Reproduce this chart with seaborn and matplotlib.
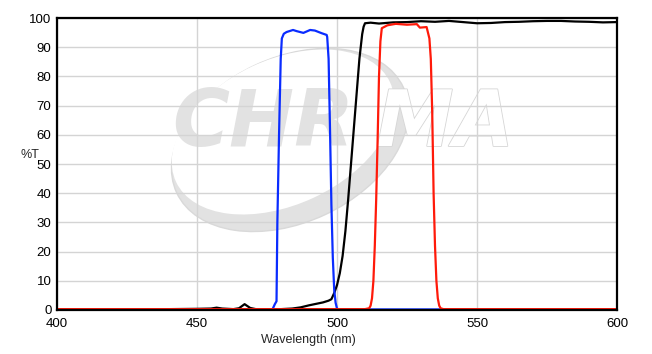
import numpy as np
import pandas as pd
import matplotlib
matplotlib.use("Agg")
import matplotlib.pyplot as plt
import seaborn as sns
from matplotlib.patches import Ellipse
from matplotlib.transforms import IdentityTransform
import matplotlib.patheffects as pe

# ---- data ----
black_wl = [400, 420, 440, 450, 455, 457, 459, 463, 465, 467, 469, 471, 475, 480, 484,
            487, 490, 493, 495, 497, 498, 499, 500, 501, 502, 503, 504, 505, 506, 507,
            508, 509, 509.5, 510, 512, 515, 520, 525, 530, 535, 540, 545, 550, 555,
            560, 565, 570, 575, 580, 585, 590, 595, 600]
black_t = [0.3, 0.3, 0.3, 0.4, 0.5, 0.8, 0.5, 0.3, 0.6, 2.0, 0.7, 0.3, 0.3, 0.3, 0.5,
           0.9, 1.6, 2.2, 2.6, 3.2, 3.7, 5.8, 8.5, 12.6, 18.5, 27, 38, 50, 62, 74,
           86, 94.5, 97, 98.2, 98.4, 98.1, 98.5, 98.6, 98.9, 98.7, 99.0, 98.6, 98.2, 98.3,
           98.6, 98.7, 98.9, 99.0, 99.0, 98.8, 98.7, 98.5, 98.6]

blue_wl = [400, 476, 477, 477.8, 478.4, 478.7, 479.3, 479.9, 480.3, 481, 482, 484.3,
           485.6, 488, 490.4, 492.1, 494.5, 496.3, 496.5, 497, 497.5, 498, 498.5, 499,
           499.5, 500, 500.5, 510, 540, 600]
blue_t = [0.2, 0.2, 0.3, 2, 3, 30, 60, 86, 93, 94.6, 95.2, 95.9,
          95.5, 94.9, 95.9, 95.7, 94.8, 94.2, 93.5, 86, 62, 36, 18, 7,
          2.5, 0.5, 0.2, 0.2, 0.2, 0.2]

red_wl = [400, 510, 511.5, 512, 512.5, 513, 513.5, 514, 514.5, 515, 515.5, 516, 518,
          521, 525, 528.5, 529.6, 532, 533, 533.5, 534, 534.5, 535, 535.5, 536, 536.5,
          537, 538, 600]
red_t = [0.3, 0.3, 0.6, 1.5, 4, 10, 22, 38, 58, 80, 92, 96.5, 97.5,
         98, 97.7, 97.9, 96.7, 96.9, 93, 86, 68, 40, 22, 10, 4, 1.5,
         0.6, 0.3, 0.3]

x_ticks = [400, 450, 500, 550, 600]
y_ticks = [0, 10, 20, 30, 40, 50, 60, 70, 80, 90, 100]

sns.set_theme(style="white")
plt.rcParams['font.family'] = ['Liberation Sans', 'DejaVu Sans']

W, H = 652, 354
fig = plt.figure(figsize=(W / 100, H / 100), dpi=100)
ax = fig.add_axes([57 / W, 1 - 310 / H, 560 / W, 292 / H])

# ---- watermark (logo) ----
def px(xp, yp):
    return (xp, H - yp)

wm_color = '#e2e2e2'
ang = 25
outer = Ellipse(px(290, 140), 250, 165, angle=ang, facecolor=wm_color, edgecolor='#d9d9d9',
                lw=1.0, transform=IdentityTransform(), zorder=0.3)
inner = Ellipse(px(283, 132), 236, 145, angle=ang, facecolor='white', edgecolor='none',
                transform=IdentityTransform(), zorder=0.35)
fig.patches.extend([outer, inner])
fig.text(263 / W, 1 - 124 / H, 'CHR', fontsize=56, fontweight='bold', style='italic',
         color=wm_color, ha='center', va='center', family='DejaVu Sans', zorder=0.6)
fig.text(445 / W, 1 - 124 / H, 'MA', fontsize=56, fontweight='bold', style='italic',
         color='white', ha='center', va='center', family='DejaVu Sans', zorder=0.6,
         path_effects=[pe.withStroke(linewidth=1.2, foreground='#d6d6d6')])
ax.set_facecolor('none')
ax.set_zorder(1)

# ---- curves ----
df_k = pd.DataFrame({'wl': black_wl, 't': black_t})
df_b = pd.DataFrame({'wl': blue_wl, 't': blue_t})
df_r = pd.DataFrame({'wl': red_wl, 't': red_t})
sns.lineplot(data=df_k, x='wl', y='t', color='black', lw=1.6, ax=ax, estimator=None, sort=False)
sns.lineplot(data=df_b, x='wl', y='t', color='#0a2cff', lw=1.6, ax=ax, estimator=None, sort=False)
sns.lineplot(data=df_r, x='wl', y='t', color='#ff1a0a', lw=1.6, ax=ax, estimator=None, sort=False)

ax.set_xlim(400, 600)
ax.set_ylim(0, 100)
ax.set_xticks(x_ticks)
ax.set_yticks(y_ticks)
ax.set_xticklabels([str(v) for v in x_ticks])
ax.set_yticklabels([str(v) for v in y_ticks])
ax.grid(True, color='#d4d4d4', lw=1.0)
ax.set_axisbelow(True)
ax.tick_params(length=0, labelsize=9.5, colors='black')
ax.tick_params(axis='x', pad=6)
ax.tick_params(axis='y', pad=4)
for s in ax.spines.values():
    s.set_color('black')
    s.set_linewidth(1.6)
ax.set_xlabel('')
ax.set_ylabel('')
fig.text(308 / W, 1 - 340 / H, 'Wavelength (nm)', fontsize=9, ha='center', va='center')
fig.text(30 / W, 1 - 155 / H, '%T', fontsize=9, ha='center', va='center')

fig.savefig('out.png', dpi=100, facecolor='white')
